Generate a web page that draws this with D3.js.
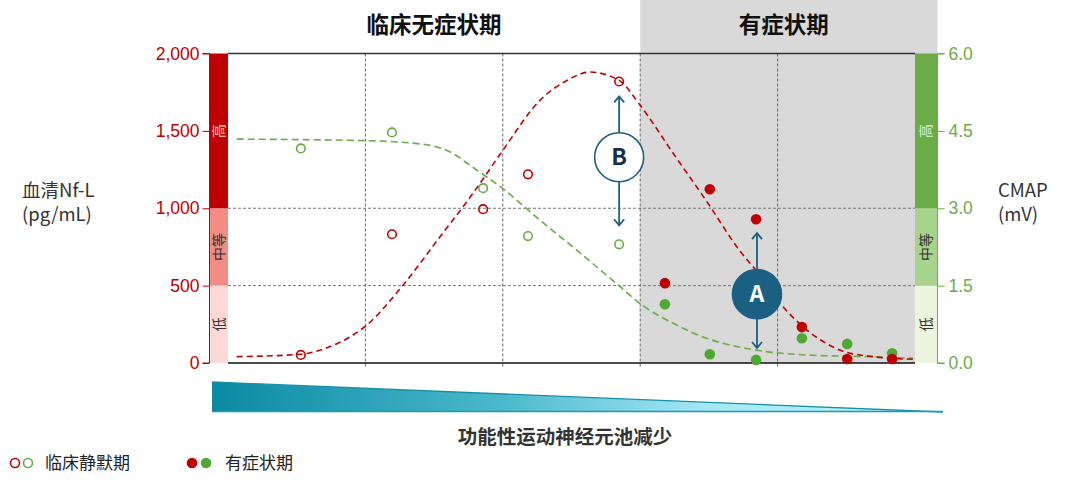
<!DOCTYPE html>
<html><head><meta charset="utf-8">
<script src="https://cdn.jsdelivr.net/npm/d3@7/dist/d3.min.js"></script>
<style>
body{margin:0;background:#fff;}
svg text{font-family:"Noto Sans CJK SC","Noto Sans",sans-serif;}
</style></head>
<body><svg id="c" width="1080" height="483"></svg>
<script>
// ---- data ----
const phaseTitles = ["临床无症状期", "有症状期"];
const leftTicks = [0, 500, 1000, 1500, 2000];
const rightTicks = [0, 1.5, 3, 4.5, 6];
const xGrid = [3, 6, 9, 12];
const levelLabels = ["低", "中等", "高"];
const leftLevels = [0, 500, 1000, 2000];
const rightLevels = [0, 1.5, 3, 6];

const xQuiet = [1.59, 3.58, 5.57, 6.55, 8.54];
const nflQuiet = [52, 832, 994, 1219, 1819];
const cmapQuiet = [4.16, 4.47, 3.39, 2.46, 2.30];

const xSymp = [9.54, 10.52, 11.53, 12.53, 13.52, 14.5];
const nflSymp = [516, 1123, 929, 232, 26, 26];
const cmapSymp = [1.14, 0.17, 0.06, 0.48, 0.37, 0.19];

const nflCurveX = [0.19,1.57,2.15,2.73,3.03,3.82,4.63,5.35,6.0,6.81,7.40,7.90,8.54,9.0,9.72,10.45,11.18,11.54,12.05,12.64,13.36,14.08,14.96];
const nflCurveY = [41,56,97,181,245,503,816,1097,1374,1697,1826,1880,1826,1665,1355,1045,723,594,387,213,84,41,24];
const cmapCurveX = [0.19,3.03,4.34,4.85,5.35,6.0,6.81,7.53,8.56,9.0,9.72,10.45,11.46,12.64,14.08,14.96];
const cmapCurveY = [4.34,4.31,4.23,4.09,3.79,3.38,2.77,2.25,1.48,1.15,0.77,0.48,0.26,0.155,0.12,0.09];

// annotations: label, x, centre (Nf-L units), arrow up tip, arrow down tip
const annLabels = ["B", "A"];
const annX = [8.54, 11.55];
const annY = [1330, 445];
const annUp = [1723, 839];
const annDown = [890, 97];

const legendLabels = ["临床静默期", "有症状期"];
const bottomLabel = "功能性运动神经元池减少";
const axisTitleLeft = ["血清Nf-L", "(pg/mL)"];
const axisTitleRight = ["CMAP", "(mV)"];

// ---- drawing ----
const RED = "#c00000", GREEN = "#6aac45", BLUE = "#1b5f82";
const svg = d3.select("#c");
const x = d3.scaleLinear().domain([0, 15]).range([228, 915]);
const yL = d3.scaleLinear().domain([0, 2000]).range([363, 53.5]);
const yR = d3.scaleLinear().domain([0, 6]).range([363, 53.5]);
const bandL = [209.5, 228], bandR = [915, 937.5];

// gray symptomatic region
svg.append("rect").attr("x", x(9)).attr("y", 0)
  .attr("width", bandR[1] - x(9)).attr("height", yL(0)).attr("fill", "#d9d9d9");

// titles
svg.append("text").attr("x", (x(0) + x(9)) / 2).attr("y", 33).attr("text-anchor", "middle")
  .attr("font-size", 22.5).attr("font-weight", 700).attr("fill", "#111").text(phaseTitles[0]);
svg.append("text").attr("x", (x(9) + bandR[1]) / 2 - 5).attr("y", 33).attr("text-anchor", "middle")
  .attr("font-size", 22.5).attr("font-weight", 700).attr("fill", "#111").text(phaseTitles[1]);

// grid
svg.selectAll(".hg").data([500, 1000]).join("line")
  .attr("x1", x(0)).attr("x2", x(15)).attr("y1", d => yL(d)).attr("y2", d => yL(d))
  .attr("stroke", "#777").attr("stroke-width", 1).attr("stroke-dasharray", "3,2");
svg.selectAll(".vg").data(xGrid).join("line")
  .attr("x1", d => x(d)).attr("x2", d => x(d)).attr("y1", yL(2000)).attr("y2", yL(0) + 4)
  .attr("stroke", "#666").attr("stroke-width", 1).attr("stroke-dasharray", "3,2");
svg.append("line").attr("x1", x(0)).attr("x2", x(15)).attr("y1", yL(2000)).attr("y2", yL(2000))
  .attr("stroke", "#333").attr("stroke-width", 1.3);
svg.append("line").attr("x1", x(0)).attr("x2", x(15)).attr("y1", yL(0)).attr("y2", yL(0))
  .attr("stroke", "#111").attr("stroke-width", 1.5);

// level bands
const lColors = ["#fdd9d7", "#f28c84", "#c00000"];
const rColors = ["#ebf4dc", "#a8d38d", "#6aac45"];
const lText = ["#333", "#333", "#f7d0d0"];
const rText = ["#333", "#333", "#dff0d0"];
levelLabels.forEach((lab, i) => {
  const y0 = yL(leftLevels[i]), y1 = yL(leftLevels[i + 1]);
  svg.append("rect").attr("x", bandL[0]).attr("y", y1).attr("width", bandL[1] - bandL[0]).attr("height", y0 - y1).attr("fill", lColors[i]);
  const cy = (y0 + y1) / 2, cx = (bandL[0] + bandL[1]) / 2;
  svg.append("text").attr("transform", `translate(${cx + 5},${cy}) rotate(-90)`).attr("text-anchor", "middle")
    .attr("font-size", 14).attr("fill", lText[i]).text(lab);
  const r0 = yR(rightLevels[i]), r1 = yR(rightLevels[i + 1]);
  svg.append("rect").attr("x", bandR[0]).attr("y", r1).attr("width", bandR[1] - bandR[0]).attr("height", r0 - r1).attr("fill", rColors[i]);
  const rcx = (bandR[0] + bandR[1]) / 2, rcy = (r0 + r1) / 2;
  svg.append("text").attr("transform", `translate(${rcx + 5},${rcy}) rotate(-90)`).attr("text-anchor", "middle")
    .attr("font-size", 14).attr("fill", rText[i]).text(lab);
});

// axes
const gL = svg.append("g").attr("transform", `translate(${bandL[0]},0)`)
  .call(d3.axisLeft(yL).tickValues(leftTicks).tickFormat(d3.format(",")).tickSize(7).tickPadding(3));
gL.selectAll("path,line").attr("stroke", RED);
gL.selectAll("text").attr("fill", RED).attr("font-size", 17.5).style("font-family", "'Liberation Sans',Arial,sans-serif");
const gR = svg.append("g").attr("transform", `translate(${bandR[1]},0)`)
  .call(d3.axisRight(yR).tickValues(rightTicks).tickFormat(d3.format(".1f")).tickSize(7).tickPadding(4));
gR.selectAll("path,line").attr("stroke", GREEN);
gR.selectAll("text").attr("fill", GREEN).attr("font-size", 17.5).style("font-family", "'Liberation Sans',Arial,sans-serif");
gL.select(".domain").attr("d", `M-7,${yL(2000)}H0V${yL(0)}H-7`);
gR.select(".domain").attr("d", `M7,${yR(6)}H0V${yR(0)}H7`);

// axis titles
axisTitleLeft.forEach((t, i) => svg.append("text").attr("x", 22).attr("y", 197 + i * 24)
  .attr("font-size", 18.5).attr("fill", "#333").text(t));
axisTitleRight.forEach((t, i) => svg.append("text").attr("x", 998).attr("y", 197 + i * 24)
  .attr("font-size", 18.5).attr("fill", "#333").text(t));

// curves
const lineL = d3.line().x(d => x(d[0])).y(d => yL(d[1])).curve(d3.curveMonotoneX);
const lineR = d3.line().x(d => x(d[0])).y(d => yR(d[1])).curve(d3.curveMonotoneX);
svg.append("path").attr("d", lineR(cmapCurveX.map((v, i) => [v, cmapCurveY[i]])))
  .attr("fill", "none").attr("stroke", GREEN).attr("stroke-width", 1.6).attr("stroke-dasharray", "7,4");
svg.append("path").attr("d", lineL(nflCurveX.map((v, i) => [v, nflCurveY[i]])))
  .attr("fill", "none").attr("stroke", RED).attr("stroke-width", 1.6).attr("stroke-dasharray", "6,4");

// points
svg.selectAll(".oq").data(xQuiet.map((v, i) => [v, cmapQuiet[i]])).join("circle")
  .attr("cx", d => x(d[0])).attr("cy", d => yR(d[1])).attr("r", 4.3)
  .attr("fill", "none").attr("stroke", GREEN).attr("stroke-width", 1.6);
svg.selectAll(".rq").data(xQuiet.map((v, i) => [v, nflQuiet[i]])).join("circle")
  .attr("cx", d => x(d[0])).attr("cy", d => yL(d[1])).attr("r", 4.3)
  .attr("fill", "none").attr("stroke", RED).attr("stroke-width", 1.6);
svg.selectAll(".gs").data(xSymp.map((v, i) => [v, cmapSymp[i]])).join("circle")
  .attr("cx", d => x(d[0])).attr("cy", d => yR(d[1])).attr("r", 5.3).attr("fill", "#4fa833");
svg.selectAll(".rs").data(xSymp.map((v, i) => [v, nflSymp[i]])).join("circle")
  .attr("cx", d => x(d[0])).attr("cy", d => yL(d[1])).attr("r", 5.3).attr("fill", RED);

// annotations
const R = 24.5;
annLabels.forEach((lab, i) => {
  const cx = x(annX[i]), cy = yL(annY[i]);
  const up = yL(annUp[i]), dn = yL(annDown[i]);
  const g = svg.append("g").attr("stroke", BLUE).attr("stroke-width", 1.8).attr("fill", "none");
  g.append("line").attr("x1", cx).attr("x2", cx).attr("y1", cy - R).attr("y2", up);
  g.append("line").attr("x1", cx).attr("x2", cx).attr("y1", cy + R).attr("y2", dn);
  g.append("path").attr("d", `M${cx - 5},${up + 6}L${cx},${up}L${cx + 5},${up + 6}`);
  g.append("path").attr("d", `M${cx - 5},${dn - 6}L${cx},${dn}L${cx + 5},${dn - 6}`);
  svg.append("circle").attr("cx", cx).attr("cy", cy).attr("r", R)
    .attr("fill", i === 0 ? "#fff" : BLUE).attr("stroke", BLUE).attr("stroke-width", 1.6);
  svg.append("text").attr("x", cx).attr("y", cy + 8).attr("text-anchor", "middle")
    .attr("font-size", 23).attr("font-weight", 700)
    .attr("fill", i === 0 ? "#14304f" : "#fff").text(lab);
});

// gradient triangle
const defs = svg.append("defs");
const grad = defs.append("linearGradient").attr("id", "tg").attr("x1", "0").attr("x2", "1").attr("y1", "0").attr("y2", "0");
[["0%", "#0a8aa3"], ["40%", "#4cb9cc"], ["68%", "#a6e8f6"], ["100%", "#bff3fd"]].forEach(s =>
  grad.append("stop").attr("offset", s[0]).attr("stop-color", s[1]));
const tri = [[212, 382], [943, 412], [212, 412]];
svg.append("path").attr("d", d3.line()(tri) + "Z").attr("fill", "url(#tg)");
svg.append("line").attr("x1", 212).attr("y1", 382).attr("x2", 943).attr("y2", 412).attr("stroke", "#1590a8").attr("stroke-width", 1.3);
svg.append("line").attr("x1", 212).attr("y1", 411.5).attr("x2", 943).attr("y2", 411.5).attr("stroke", "#1a9ab3").attr("stroke-width", 1.3);

svg.append("text").attr("x", 565).attr("y", 444).attr("text-anchor", "middle")
  .attr("font-size", 19.5).attr("font-weight", 700).attr("fill", "#333").text(bottomLabel);

// legend
const lg = svg.append("g");
lg.append("circle").attr("cx", 15).attr("cy", 463).attr("r", 4.5).attr("fill", "none").attr("stroke", RED).attr("stroke-width", 1.6);
lg.append("circle").attr("cx", 28).attr("cy", 463).attr("r", 4.5).attr("fill", "none").attr("stroke", GREEN).attr("stroke-width", 1.6);
lg.append("text").attr("x", 45).attr("y", 469).attr("font-size", 17).attr("fill", "#222").text(legendLabels[0]);
lg.append("circle").attr("cx", 192).attr("cy", 463).attr("r", 5.3).attr("fill", RED);
lg.append("circle").attr("cx", 206).attr("cy", 463).attr("r", 5.3).attr("fill", "#4fa833");
lg.append("text").attr("x", 225).attr("y", 469).attr("font-size", 17).attr("fill", "#222").text(legendLabels[1]);
</script></body></html>
